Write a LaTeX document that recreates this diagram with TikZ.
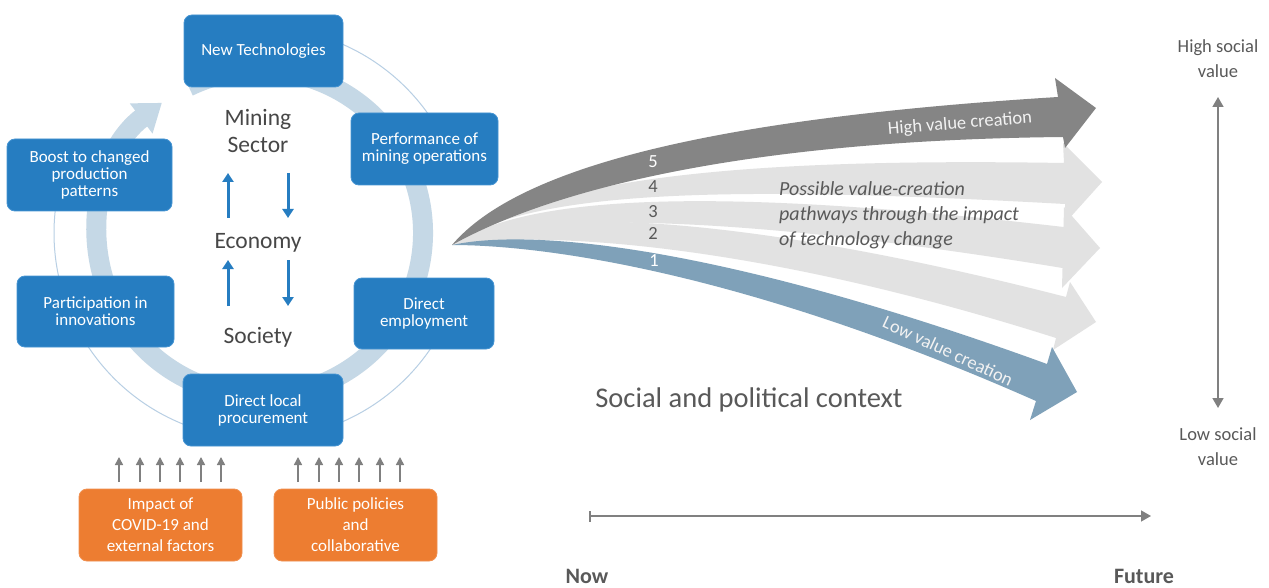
\documentclass[tikz,border=0pt]{standalone}
\usepackage{fontspec}
\setmainfont{Carlito}
\usetikzlibrary{arrows.meta}
\definecolor{boxblue}{RGB}{38,125,193}
\definecolor{boxedge}{RGB}{70,148,210}
\definecolor{boxorange}{RGB}{237,125,49}
\definecolor{ringblue}{RGB}{197,216,230}
\definecolor{thinblue}{RGB}{184,207,228}
\definecolor{darkarrow}{RGB}{133,133,133}
\definecolor{lightarrow}{RGB}{226,226,226}
\definecolor{lowarrow}{RGB}{127,161,185}
\definecolor{txtgray}{RGB}{89,89,89}
\definecolor{midgray}{RGB}{128,128,128}
\begin{document}
\begin{tikzpicture}[x=1pt,y=-1pt,
  bluebox/.style={rounded corners=8pt, fill=boxblue, draw=boxedge, line width=0.8pt,
    text=white, align=center, inner sep=0pt,
    font=\fontsize{17}{17}\selectfont},
  orangebox/.style={rounded corners=8pt, fill=boxorange, draw=boxorange!85!white, line width=0.8pt,
    text=white, align=center, inner sep=0pt,
    minimum width=163pt, minimum height=72pt,
    font=\fontsize{17}{21}\selectfont},
  core/.style={text=txtgray!80!black, align=center, inner sep=0pt,
    font=\fontsize{23.5}{27}\selectfont},
  updown/.style={draw=boxblue, line width=3pt, -{Triangle[width=11pt,length=9pt]}},
  inflow/.style={draw=midgray, line width=1.5pt, -{Triangle[width=8pt,length=8pt]}},
  fanlabel/.style={inner sep=0pt, font=\fontsize{18.5}{22}\selectfont},
  sidelabel/.style={text=txtgray, align=center, inner sep=0pt,
    font=\fontsize{18.5}{25}\selectfont},
  timelabel/.style={text=txtgray, inner sep=0pt, font=\bfseries\fontsize{22}{26}\selectfont}
]
\useasboundingbox (0,0) rectangle (1269,588);
\fill[white] (0,0) rectangle (1269,588);

% ---- the cycle around the core ----
\coordinate (cc) at (260,233);
\draw[thinblue, line width=1pt] (cc) ++(-100:206) arc[start angle=-100, end angle=-20, radius=206];
\draw[thinblue, line width=1pt] (cc) ++(15:206) arc[start angle=15, end angle=200, radius=206];
\draw[ringblue, line width=20pt, -{Triangle[width=36pt,length=26pt]}]
  (cc) ++(-116:163) arc[start angle=-116, end angle=233, radius=163];

\node[bluebox, minimum width=159pt, minimum height=72pt] (tech) at (263.5,51) {New Technologies};
\node[bluebox, minimum width=147pt, minimum height=72pt] (perf) at (424.5,149) {Performance of\\mining operations};
\node[bluebox, minimum width=140pt, minimum height=71pt] (empl) at (424,313.5) {Direct\\employment};
\node[bluebox, minimum width=160pt, minimum height=72pt] (proc) at (263,410) {Direct local\\procurement};
\node[bluebox, minimum width=157pt, minimum height=71pt] (part) at (95.5,311.5) {Participation in\\innovations};
\node[bluebox, minimum width=165pt, minimum height=72pt] (boost) at (89.5,175) {Boost to changed\\production\\patterns};

% ---- core: mining sector, economy, society ----
\node[core] (mining) at (258,131) {Mining\\Sector};
\node[core] (economy) at (258,243) {Economy};
\node[core] (society) at (258,337) {Society};
\draw[updown] (228,218) -- (228,173);
\draw[updown] (288,173) -- (288,218);
\draw[updown] (228,306) -- (228,260);
\draw[updown] (288,260) -- (288,306);

% ---- external drivers ----
\node[orangebox] (covid) at (160.5,525) {Impact of\\COVID-19 and\\external factors};
\node[orangebox] (policy) at (355.5,525) {Public policies\\and\\collaborative};
\foreach \x in {119,140,160,180,201,221} \draw[inflow] (\x,482) -- (\x,457);
\foreach \x in {298,319,339,359,380,400} \draw[inflow] (\x,482) -- (\x,457);

% ---- fan of value-creation pathways ----
\coordinate (O) at (452,245);
% pathway 2
\fill[lightarrow] (O) .. controls (525,205) and (735,212) .. (1066,297) -- (1070,282) -- (1096,322)
  -- (1053,350) -- (1056,338) .. controls (735,236) and (525,232) .. (O) -- cycle;
% pathway 3
\fill[lightarrow] (O) .. controls (532,190) and (745,190) .. (1063.5,227) -- (1064,207) -- (1100,248)
  -- (1062,288) -- (1062.5,268) .. controls (740,215) and (530,210) .. (O) -- cycle;
% pathway 4
\fill[lightarrow] (O) .. controls (540,175) and (760,158) .. (1064,163) -- (1063,143) -- (1102,182)
  -- (1066,222) -- (1065,204) .. controls (740,186) and (530,188) .. (O) -- cycle;
% pathway 1 (low)
\fill[lowarrow] (O) .. controls (530,228) and (720,245) .. (1047,364) -- (1052,347) -- (1077,392)
  -- (1030,420) -- (1036,401) .. controls (740,270) and (540,245) .. (O) -- cycle;
% pathway 5 (high)
\fill[darkarrow] (O) .. controls (520,165) and (720,118) .. (1058,97) -- (1055,78) -- (1096,108)
  -- (1065,148) -- (1063,137) .. controls (760,140) and (560,185) .. (O) -- cycle;

\node[fanlabel, text=white] (n5) at (653,162) {5};
\node[fanlabel, text=txtgray] (n4) at (653,187) {4};
\node[fanlabel, text=txtgray] (n3) at (653,212) {3};
\node[fanlabel, text=txtgray] (n2) at (653,233) {2};
\node[fanlabel, text=white] (n1) at (654,261) {1};
\node[fanlabel, text=white!95!black, rotate=4.5] (high) at (960,124) {High value creation};
\node[fanlabel, text=white!95!black, rotate=-25] (low) at (948,351) {Low value creation};
\node[text=txtgray, align=left, anchor=north west, inner sep=0pt,
  font=\itshape\fontsize{20}{25}\selectfont] (paths) at (779,181)
  {Possible value-creation\\pathways through the impact\\of technology change};
\node[text=txtgray, inner sep=0pt, font=\fontsize{28.5}{32}\selectfont] (context) at (749,400)
  {Social and political context};

% ---- social value scale ----
\node[sidelabel] (hisoc) at (1218,59) {High social\\value};
\node[sidelabel] (losoc) at (1218,447) {Low social\\value};
\coordinate (vtop) at (1218,97);
\coordinate (vbot) at (1218,408);
\draw[midgray, line width=1.5pt, {Triangle[width=11pt,length=10pt]}-{Triangle[width=11pt,length=10pt]}] (vtop) -- (vbot);

% ---- time axis ----
\coordinate (tnow) at (589,516);
\coordinate (tfut) at (1151,516);
\draw[midgray, line width=1.5pt, {Bar[width=11pt]}-{Triangle[width=11pt,length=10pt]}] (tnow) -- (tfut);
\node[timelabel] (now) at (587,576) {Now};
\node[timelabel] (future) at (1144,576) {Future};
\end{tikzpicture}
\end{document}
